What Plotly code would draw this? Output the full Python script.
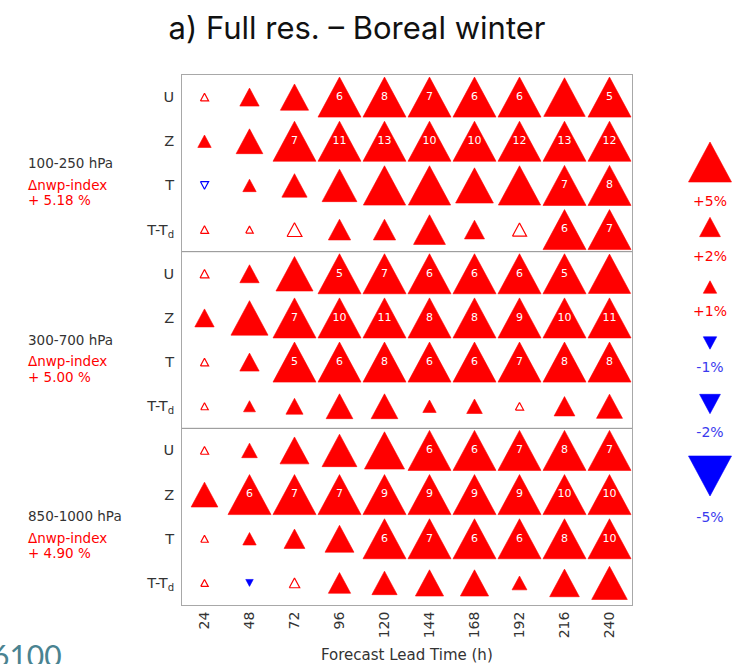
import plotly.graph_objects as go

# ---------------- data ----------------
lead_times = [24, 48, 72, 96, 120, 144, 168, 192, 216, 240]
variables = ["U", "Z", "T", "T-T<sub>d</sub>"]
layers = ["100-250 hPa", "300-700 hPa", "850-1000 hPa"]
nwp_index = ["+ 5.18 %", "+ 5.00 %", "+ 4.90 %"]

# relative change (%) : rows = U, Z, T, T-Td ; cols = lead times
change_100_250 = [
    [0.3, 1.8, 3.0, 6, 8, 7, 6, 6, 4.8, 5],
    [1.0, 2.8, 7, 11, 13, 10, 10, 12, 13, 12],
    [-0.3, 1.0, 2.6, 3.9, 4.9, 4.9, 4.3, 4.9, 7, 8],
    [0.3, 0.2, 1.2, 2.2, 2.2, 3.5, 1.9, 1.1, 6, 7],
]
change_300_700 = [
    [0.4, 1.8, 4.2, 5, 7, 6, 6, 6, 5, 4.9],
    [1.8, 4.2, 7, 10, 11, 8, 8, 9, 10, 11],
    [0.3, 1.8, 5, 6, 8, 6, 6, 7, 8, 8],
    [0.2, 0.8, 1.5, 2.8, 2.8, 1.0, 1.3, 0.3, 2.0, 2.7],
]
change_850_1000 = [
    [0.3, 1.3, 3.1, 3.9, 4.6, 6, 6, 7, 8, 7],
    [2.8, 6, 7, 7, 9, 9, 9, 9, 10, 10],
    [0.2, 1.0, 2.0, 3.1, 6, 7, 6, 6, 8, 10],
    [0.2, -0.2, 0.6, 2.2, 2.6, 3.0, 3.0, 1.2, 3.2, 4.0],
]
# 1 = significant (filled), 0 = not significant (open)
signif_100_250 = [
    [0, 1, 1, 1, 1, 1, 1, 1, 1, 1],
    [1, 1, 1, 1, 1, 1, 1, 1, 1, 1],
    [0, 1, 1, 1, 1, 1, 1, 1, 1, 1],
    [0, 0, 0, 1, 1, 1, 1, 0, 1, 1],
]
signif_300_700 = [
    [0, 1, 1, 1, 1, 1, 1, 1, 1, 1],
    [1, 1, 1, 1, 1, 1, 1, 1, 1, 1],
    [0, 1, 1, 1, 1, 1, 1, 1, 1, 1],
    [0, 1, 1, 1, 1, 1, 1, 0, 1, 1],
]
signif_850_1000 = [
    [0, 1, 1, 1, 1, 1, 1, 1, 1, 1],
    [1, 1, 1, 1, 1, 1, 1, 1, 1, 1],
    [0, 1, 1, 1, 1, 1, 1, 1, 1, 1],
    [0, 1, 0, 1, 1, 1, 1, 1, 1, 1],
]
legend_values = [5, 2, 1, -1, -2, -5]
legend_labels = ["+5%", "+2%", "+1%", "-1%", "-2%", "-5%"]

blocks = [
    (change_100_250, signif_100_250),
    (change_300_700, signif_300_700),
    (change_850_1000, signif_850_1000),
]

# ---------------- layout geometry ----------------
W, H = 741, 664
ML, MR, MT, MB = 182, 5, 75, 59
plot_w = W - ML - MR
plot_h = H - MT - MB
main_w = 450
ncol = len(lead_times)
nrow = len(variables) * len(layers)
col_px = main_w / ncol
row_px = plot_h / nrow
leg_x0 = 660
leg_cx = 710
leg_tri_y = [162, 227, 287, 343, 404, 476]
leg_lab_y = [202, 257, 312, 368, 433, 518]

RED = "#ff0000"
BLUE = "#0000ff"
FONT = "DejaVu Sans, Liberation Sans, Arial"
TXT = "#333333"


def tri_px(v):
    w = 6 + 7.4 * min(abs(v), 5)
    return w, 0.93 * w


def add_tri(store, cx, cy, hw, hh, up):
    if up:
        pts = [(cx - hw, cy + hh), (cx + hw, cy + hh), (cx, cy - hh), (cx - hw, cy + hh)]
    else:
        pts = [(cx - hw, cy - hh), (cx + hw, cy - hh), (cx, cy + hh), (cx - hw, cy - hh)]
    for px, py in pts:
        store["x"].append(px)
        store["y"].append(py)
    store["x"].append(None)
    store["y"].append(None)


groups = {k: {"x": [], "y": []} for k in [("r", 1), ("r", 0), ("b", 1), ("b", 0)]}
lgroups = {k: {"x": [], "y": []} for k in [("r", 1), ("b", 1)]}
tx, ty, tt = [], [], []

for b, (vals, sig) in enumerate(blocks):
    for vi in range(len(variables)):
        r = b * len(variables) + vi
        for ci in range(ncol):
            v = vals[vi][ci]
            w, h = tri_px(v)
            key = ("r" if v >= 0 else "b", sig[vi][ci])
            add_tri(groups[key], ci, r, w / 2 / col_px, h / 2 / row_px, v >= 0)
            if v >= 5:
                tx.append(ci)
                ty.append(r)
                tt.append(str(int(round(v))))

for v, yy in zip(legend_values, leg_tri_y):
    w, h = tri_px(v)
    add_tri(lgroups[("r" if v > 0 else "b", 1)], leg_cx, yy, w / 2, h / 2, v > 0)

fig = go.Figure()
for (c, s), d in groups.items():
    col = RED if c == "r" else BLUE
    fig.add_trace(go.Scatter(
        x=d["x"], y=d["y"], mode="lines", fill="toself",
        fillcolor=col if s else "white",
        line=dict(color=col, width=0.6 if s else 1.2),
        hoverinfo="skip", showlegend=False))

fig.add_trace(go.Scatter(
    x=tx, y=ty, text=tt, mode="text",
    textfont=dict(color="white", size=11, family=FONT),
    hoverinfo="skip", showlegend=False))

for (c, s), d in lgroups.items():
    col = RED if c == "r" else BLUE
    fig.add_trace(go.Scatter(
        x=d["x"], y=d["y"], mode="lines", fill="toself", fillcolor=col,
        line=dict(color=col, width=0.6), xaxis="x2", yaxis="y2",
        hoverinfo="skip", showlegend=False))

fig.add_trace(go.Scatter(
    x=[leg_cx] * len(legend_labels), y=leg_lab_y, text=legend_labels, mode="text",
    textfont=dict(color=[RED if v > 0 else "#3a3aee" for v in legend_values],
                  size=14, family=FONT),
    xaxis="x2", yaxis="y2", hoverinfo="skip", showlegend=False))

# separators between pressure-layer blocks
for b in range(1, len(layers)):
    fig.add_shape(type="line", xref="x", yref="y", x0=-0.5, x1=ncol - 0.5,
                  y0=b * len(variables) - 0.5, y1=b * len(variables) - 0.5,
                  line=dict(color="#8c8c8c", width=1))

annotations = []
lab_x = (26 - ML) / plot_w
for b, (lay, idx) in enumerate(zip(layers, nwp_index)):
    base = b * len(variables)
    annotations.append(dict(text=lay, x=lab_x, xref="paper", y=base + 1.49, yref="y",
                            xanchor="left", yanchor="middle", showarrow=False,
                            font=dict(size=13.5, color=TXT, family=FONT)))
    annotations.append(dict(text="Δnwp-index", x=lab_x, xref="paper", y=base + 1.98, yref="y",
                            xanchor="left", yanchor="middle", showarrow=False,
                            font=dict(size=13.5, color=RED, family=FONT)))
    annotations.append(dict(text=idx, x=lab_x, xref="paper", y=base + 2.33, yref="y",
                            xanchor="left", yanchor="middle", showarrow=False,
                            font=dict(size=13.5, color=RED, family=FONT)))

annotations.append(dict(text="Forecast Lead Time (h)", x=(main_w / 2) / plot_w, xref="paper",
                        y=(plot_h - (655 - MT)) / plot_h, yref="paper",
                        xanchor="center", yanchor="middle", showarrow=False,
                        font=dict(size=15, color=TXT, family=FONT)))
annotations.append(dict(text="6100", x=(64 - ML) / plot_w, xref="paper",
                        y=(plot_h - (635 - MT)) / plot_h, yref="paper",
                        xanchor="right", yanchor="top", showarrow=False,
                        font=dict(size=30, color="#4a8391", family="Lato, Open Sans")))

fig.update_layout(
    width=W, height=H,
    margin=dict(l=ML, r=MR, t=MT, b=MB),
    paper_bgcolor="white", plot_bgcolor="white",
    title=dict(text="a) Full res. – Boreal winter", x=357 / W, xref="container",
               xanchor="center", y=1 - 28 / H, yref="container", yanchor="middle",
               font=dict(size=31, color="#111111", family="Inter, Open Sans")),
    xaxis=dict(domain=[0, main_w / plot_w], range=[-0.5, ncol - 0.5],
               tickvals=list(range(ncol)), ticktext=[str(t) for t in lead_times],
               tickangle=-90, showgrid=False, zeroline=False,
               showline=True, mirror=True, linecolor="#a8a8a8", linewidth=1,
               ticks="", tickfont=dict(size=14, color=TXT, family=FONT)),
    yaxis=dict(range=[nrow - 0.5, -0.5], tickvals=list(range(nrow)),
               ticktext=variables * len(layers), showgrid=False, zeroline=False,
               showline=True, mirror=True, linecolor="#a8a8a8", linewidth=1,
               ticks="", ticklabelstandoff=4,
               tickfont=dict(size=14.5, color=TXT, family=FONT)),
    xaxis2=dict(domain=[(leg_x0 - ML) / plot_w, 1], range=[leg_x0, W - MR], visible=False,
                anchor="y2"),
    yaxis2=dict(domain=[0, 1], range=[H - MB, MT], visible=False, anchor="x2"),
    annotations=annotations,
)

fig.write_html("out.html", config={"displayModeBar": False},
               post_script="document.body.style.margin='0';")
